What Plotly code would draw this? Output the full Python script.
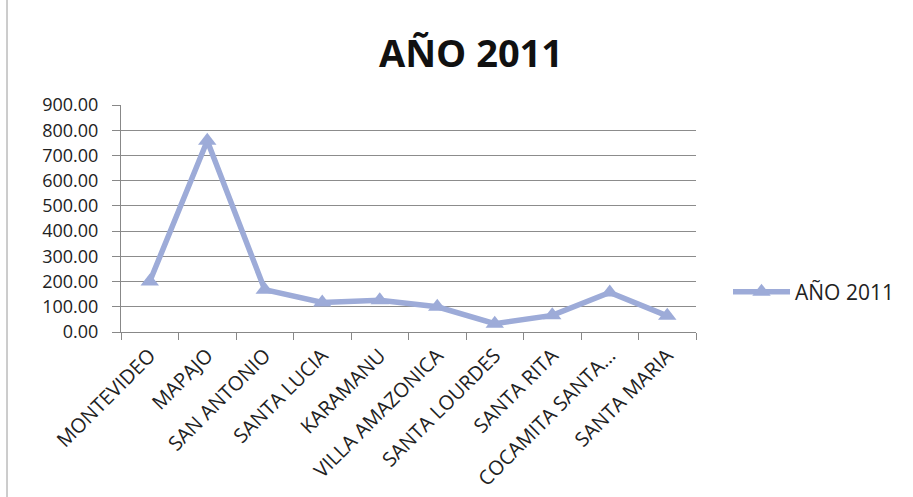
import plotly.graph_objects as go

# Categories and values for the 2011 series
categories = ["MONTEVIDEO", "MAPAJO", "SAN ANTONIO", "SANTA LUCIA", "KARAMANU",
              "VILLA AMAZONICA", "SANTA LOURDES", "SANTA RITA", "COCAMITA SANTA...",
              "SANTA MARIA"]
values_2011 = [200, 758, 168, 117, 126, 100, 33, 66, 157, 64]
y_ticks = [0, 100, 200, 300, 400, 500, 600, 700, 800, 900]

W, H = 913, 497
L, R, T, B = 121, 217, 105, 165
PW, PH = W - L - R, H - T - B

line_color = "#9DABD8"
font_family = "'Open Sans', sans-serif"

fig = go.Figure()
fig.add_trace(go.Scatter(
    x=categories, y=values_2011, name="AÑO 2011",
    mode="lines+markers",
    line=dict(color=line_color, width=5.5),
    marker=dict(symbol="triangle-up", size=16, color=line_color),
))

fig.update_layout(
    width=W, height=H,
    margin=dict(l=L, r=R, t=T, b=B, autoexpand=False),
    paper_bgcolor="white", plot_bgcolor="white",
    font=dict(family=font_family, color="#222222"),
    title=dict(text="<b>AÑO 2011</b>", x=471 / W, xref="container", xanchor="center",
               y=1 - 54 / H, yref="container", yanchor="middle",
               font=dict(size=38, family=font_family, color="#111111")),
    showlegend=True,
    legend=dict(x=(728 - L) / PW, y=(332 - 292) / PH,
                xanchor="left", yanchor="middle", font=dict(size=21, family=font_family),
                bgcolor="rgba(0,0,0,0)", itemwidth=57),
    xaxis=dict(
        type="category", tickangle=-45, tickson="boundaries",
        ticks="outside", ticklen=7, tickcolor="#888888",
        showline=True, linecolor="#888888", linewidth=1,
        showgrid=False, tickfont=dict(size=20, family=font_family),
        ticklabelstandoff=3, automargin=False,
        range=[-0.5, len(categories) - 0.5],
    ),
    yaxis=dict(
        range=[0, 900], tickvals=y_ticks, tickformat=".2f",
        ticks="outside", ticklen=8, tickcolor="#888888",
        showline=True, linecolor="#888888", linewidth=1,
        showgrid=True, gridcolor="#8c8c8c", gridwidth=1,
        tickfont=dict(size=18, family=font_family), zeroline=False,
        ticklabelstandoff=10, automargin=False,
    ),
)

# Thin chart-area border on the left
fig.add_shape(type="line", xref="paper", yref="paper",
              x0=(7 - L) / PW, x1=(7 - L) / PW,
              y0=-B / PH - 0.1, y1=1 + T / PH + 0.1,
              line=dict(color="#9a9a9a", width=1))

fig.write_html("out.html")
